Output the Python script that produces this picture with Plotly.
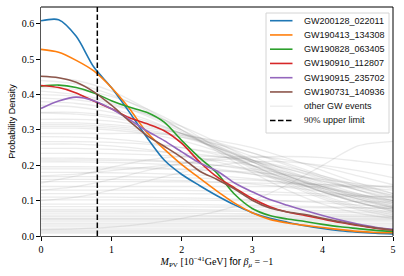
import plotly.graph_objects as go

# ---------------- data ----------------
X_FINE = [0, 0.25, 0.5, 0.75, 1.0, 1.25, 1.5, 1.75, 2.0, 2.25, 2.5, 2.75,
          3.0, 3.25, 3.5, 3.75, 4.0, 4.25, 4.5, 4.75, 5.0]

EVENT_NAMES = ["GW200128_022011", "GW190413_134308", "GW190828_063405",
               "GW190910_112807", "GW190915_235702", "GW190731_140936"]
EVENT_COLORS = ["#1f77b4", "#ff7f0e", "#2ca02c", "#d62728", "#9467bd", "#8c564b"]

GW200128 = [0.609, 0.612, 0.565, 0.478, 0.420, 0.352, 0.280, 0.215, 0.174, 0.143,
            0.114, 0.088, 0.066, 0.050, 0.039, 0.029, 0.021, 0.015, 0.011, 0.008, 0.006]
GW190413 = [0.528, 0.520, 0.497, 0.467, 0.420, 0.362, 0.294, 0.246, 0.202, 0.164,
            0.127, 0.093, 0.066, 0.047, 0.037, 0.030, 0.024, 0.018, 0.013, 0.010, 0.009]
GW190828 = [0.424, 0.427, 0.420, 0.405, 0.383, 0.365, 0.350, 0.322, 0.270, 0.222,
            0.178, 0.118, 0.078, 0.058, 0.048, 0.041, 0.033, 0.026, 0.021, 0.016, 0.013]
GW190910 = [0.426, 0.420, 0.405, 0.382, 0.360, 0.335, 0.318, 0.298, 0.262, 0.210,
            0.167, 0.136, 0.106, 0.083, 0.068, 0.058, 0.048, 0.038, 0.030, 0.022, 0.017]
GW190915 = [0.361, 0.382, 0.393, 0.383, 0.360, 0.330, 0.298, 0.270, 0.238, 0.207,
            0.184, 0.150, 0.125, 0.103, 0.087, 0.072, 0.058, 0.045, 0.034, 0.025, 0.019]
GW190731 = [0.452, 0.448, 0.435, 0.408, 0.370, 0.326, 0.285, 0.254, 0.222, 0.184,
            0.160, 0.133, 0.101, 0.079, 0.068, 0.061, 0.050, 0.040, 0.031, 0.023, 0.017]
EVENT_VALUES = [GW200128, GW190413, GW190828, GW190910, GW190915, GW190731]

X_COARSE = [0, 0.5, 1.0, 1.5, 2.0, 2.5, 3.0, 3.5, 4.0, 4.5, 5.0]
OTHER_EVENTS = [
    [0.45, 0.44, 0.41, 0.36, 0.30, 0.24, 0.18, 0.13, 0.09, 0.065, 0.05],
    [0.44, 0.43, 0.40, 0.355, 0.30, 0.245, 0.19, 0.145, 0.105, 0.075, 0.055],
    [0.42, 0.415, 0.395, 0.36, 0.31, 0.25, 0.20, 0.155, 0.115, 0.085, 0.065],
    [0.41, 0.40, 0.38, 0.345, 0.30, 0.255, 0.21, 0.165, 0.125, 0.095, 0.07],
    [0.40, 0.395, 0.375, 0.34, 0.295, 0.245, 0.195, 0.15, 0.11, 0.08, 0.06],
    [0.39, 0.385, 0.37, 0.345, 0.31, 0.265, 0.215, 0.17, 0.13, 0.095, 0.07],
    [0.38, 0.375, 0.36, 0.33, 0.29, 0.25, 0.21, 0.17, 0.135, 0.105, 0.08],
    [0.37, 0.365, 0.35, 0.325, 0.29, 0.245, 0.20, 0.16, 0.125, 0.095, 0.075],
    [0.35, 0.35, 0.34, 0.32, 0.29, 0.255, 0.215, 0.175, 0.14, 0.11, 0.085],
    [0.348, 0.345, 0.335, 0.315, 0.285, 0.25, 0.21, 0.17, 0.135, 0.105, 0.082],
    [0.33, 0.33, 0.325, 0.31, 0.29, 0.26, 0.225, 0.185, 0.15, 0.12, 0.095],
    [0.32, 0.32, 0.315, 0.305, 0.29, 0.265, 0.235, 0.20, 0.165, 0.13, 0.10],
    [0.315, 0.315, 0.31, 0.30, 0.28, 0.25, 0.215, 0.18, 0.145, 0.115, 0.09],
    [0.31, 0.31, 0.305, 0.295, 0.28, 0.26, 0.235, 0.205, 0.17, 0.14, 0.11],
    [0.305, 0.305, 0.30, 0.29, 0.27, 0.24, 0.20, 0.16, 0.125, 0.095, 0.075],
    [0.29, 0.29, 0.29, 0.29, 0.285, 0.27, 0.25, 0.22, 0.185, 0.15, 0.12],
    [0.281, 0.28, 0.275, 0.265, 0.25, 0.23, 0.20, 0.17, 0.14, 0.11, 0.09],
    [0.267, 0.267, 0.265, 0.26, 0.25, 0.235, 0.215, 0.19, 0.16, 0.13, 0.105],
    [0.26, 0.26, 0.255, 0.245, 0.23, 0.21, 0.185, 0.155, 0.125, 0.10, 0.08],
    [0.248, 0.248, 0.245, 0.24, 0.235, 0.225, 0.21, 0.19, 0.165, 0.14, 0.115],
    [0.234, 0.234, 0.233, 0.23, 0.225, 0.215, 0.20, 0.18, 0.155, 0.13, 0.11],
    [0.22, 0.22, 0.218, 0.215, 0.21, 0.20, 0.185, 0.165, 0.14, 0.115, 0.095],
    [0.215, 0.215, 0.214, 0.212, 0.208, 0.20, 0.19, 0.175, 0.155, 0.135, 0.115],
    [0.21, 0.21, 0.208, 0.205, 0.20, 0.19, 0.175, 0.155, 0.13, 0.105, 0.085],
    [0.196, 0.196, 0.195, 0.193, 0.19, 0.185, 0.175, 0.16, 0.14, 0.12, 0.10],
    [0.19, 0.19, 0.19, 0.19, 0.188, 0.185, 0.18, 0.172, 0.16, 0.148, 0.135],
    [0.18, 0.18, 0.179, 0.177, 0.174, 0.17, 0.162, 0.15, 0.135, 0.118, 0.10],
    [0.168, 0.168, 0.168, 0.167, 0.165, 0.162, 0.158, 0.152, 0.145, 0.138, 0.13],
    [0.16, 0.16, 0.16, 0.159, 0.157, 0.153, 0.147, 0.138, 0.126, 0.113, 0.10],
    [0.154, 0.154, 0.154, 0.154, 0.153, 0.152, 0.15, 0.148, 0.146, 0.143, 0.14],
    [0.14, 0.14, 0.14, 0.14, 0.14, 0.14, 0.14, 0.14, 0.14, 0.14, 0.14],
    [0.13, 0.13, 0.13, 0.13, 0.129, 0.128, 0.126, 0.123, 0.119, 0.115, 0.11],
    [0.12, 0.12, 0.12, 0.12, 0.12, 0.119, 0.118, 0.116, 0.114, 0.112, 0.11],
    [0.11, 0.11, 0.11, 0.109, 0.108, 0.106, 0.103, 0.099, 0.094, 0.088, 0.082],
    [0.102, 0.102, 0.102, 0.102, 0.102, 0.101, 0.10, 0.099, 0.098, 0.097, 0.096],
    [0.09, 0.09, 0.09, 0.09, 0.089, 0.088, 0.087, 0.085, 0.083, 0.081, 0.079],
    [0.083, 0.083, 0.083, 0.083, 0.083, 0.082, 0.082, 0.081, 0.08, 0.079, 0.078],
    [0.075, 0.075, 0.075, 0.075, 0.075, 0.074, 0.074, 0.073, 0.072, 0.071, 0.07],
    [0.07, 0.07, 0.07, 0.07, 0.07, 0.07, 0.069, 0.068, 0.067, 0.066, 0.065],
    [0.065, 0.065, 0.065, 0.065, 0.064, 0.064, 0.063, 0.062, 0.061, 0.06, 0.059],
    [0.059, 0.059, 0.059, 0.059, 0.059, 0.058, 0.058, 0.057, 0.057, 0.056, 0.055],
    [0.055, 0.055, 0.055, 0.055, 0.055, 0.055, 0.055, 0.054, 0.054, 0.054, 0.053],
    [0.05, 0.05, 0.05, 0.05, 0.05, 0.05, 0.05, 0.05, 0.05, 0.05, 0.05],
    [0.048, 0.048, 0.048, 0.048, 0.048, 0.048, 0.048, 0.047, 0.047, 0.047, 0.047],
    [0.045, 0.045, 0.045, 0.045, 0.045, 0.045, 0.045, 0.045, 0.044, 0.044, 0.044],
    [0.04, 0.04, 0.04, 0.04, 0.04, 0.04, 0.04, 0.04, 0.04, 0.04, 0.04],
    [0.035, 0.035, 0.035, 0.035, 0.035, 0.035, 0.035, 0.035, 0.035, 0.035, 0.035],
    [0.031, 0.031, 0.031, 0.031, 0.031, 0.031, 0.031, 0.031, 0.031, 0.031, 0.031],
    [0.026, 0.026, 0.026, 0.026, 0.026, 0.026, 0.026, 0.026, 0.026, 0.026, 0.026],
    [0.02, 0.02, 0.02, 0.02, 0.02, 0.02, 0.02, 0.02, 0.02, 0.02, 0.02],
    [0.016, 0.016, 0.016, 0.016, 0.016, 0.016, 0.016, 0.016, 0.016, 0.016, 0.016],
    [0.012, 0.012, 0.012, 0.012, 0.012, 0.012, 0.012, 0.012, 0.012, 0.012, 0.012],
    [0.008, 0.008, 0.008, 0.008, 0.008, 0.008, 0.008, 0.008, 0.008, 0.008, 0.008],
    [0.15, 0.17, 0.195, 0.215, 0.225, 0.225, 0.215, 0.195, 0.17, 0.145, 0.12],
    [0.13, 0.14, 0.16, 0.185, 0.205, 0.22, 0.225, 0.215, 0.195, 0.17, 0.145],
    [0.018, 0.02, 0.025, 0.035, 0.05, 0.07, 0.10, 0.145, 0.20, 0.255, 0.268],
    [0.10, 0.11, 0.13, 0.155, 0.18, 0.20, 0.21, 0.21, 0.20, 0.185, 0.165],
    [0.17, 0.175, 0.185, 0.195, 0.205, 0.215, 0.222, 0.225, 0.222, 0.212, 0.20],
]

UPPER_LIMIT = 0.8
X_TICKS = [0, 1, 2, 3, 4, 5]
Y_TICKS = [0.0, 0.1, 0.2, 0.3, 0.4, 0.5, 0.6]
Y_MAX = 0.648

# ---------------- figure ----------------
GRAY = "rgba(128,128,128,0.16)"
SERIF = "Liberation Serif"
SANS = "Liberation Sans"

fig = go.Figure()
for vals in OTHER_EVENTS:
    fig.add_trace(go.Scatter(x=X_COARSE, y=vals, mode="lines",
                             line=dict(color=GRAY, width=1.3, shape="spline", smoothing=0.8),
                             showlegend=False, hoverinfo="skip"))
for name, col, vals in zip(EVENT_NAMES, EVENT_COLORS, EVENT_VALUES):
    fig.add_trace(go.Scatter(x=X_FINE, y=vals, mode="lines", name=name,
                             line=dict(color=col, width=1.6, shape="spline", smoothing=0.8),
                             showlegend=False))

fig.add_vline(x=UPPER_LIMIT, line=dict(color="black", width=1.5, dash="5.5px,2.5px"))

# plot box geometry in pixels
W, H = 404, 276
L, R, T, B = 41, 11, 7, 40
PW, PH = W - L - R, H - T - B


def px(xp):
    return (xp - L) / PW


def py(yp):
    return (H - B - yp) / PH


shapes = list(fig.layout.shapes)
annotations = []
# top / right spines
shapes.append(dict(type="line", xref="paper", yref="paper", x0=0, x1=1, y0=1, y1=1,
                   line=dict(color="black", width=1)))
shapes.append(dict(type="line", xref="paper", yref="paper", x0=1, x1=1, y0=0, y1=1,
                   line=dict(color="black", width=1)))

# manual legend
shapes.append(dict(type="rect", xref="paper", yref="paper",
                   x0=px(266), x1=px(389), y0=py(133), y1=py(13),
                   fillcolor="rgba(255,255,255,0.8)", line=dict(color="#d4d4d4", width=1)))
legend_labels = EVENT_NAMES + ["other GW events",
                               f"<span style='font-family:{SERIF}'>90%</span> upper limit"]
legend_lines = [dict(color=c, width=1.6) for c in EVENT_COLORS] + [
    dict(color="rgba(128,128,128,0.16)", width=1.3),
    dict(color="black", width=1.5, dash="5.5px,2.5px")]
for i, (lab, ln) in enumerate(zip(legend_labels, legend_lines)):
    yy = 20.7 + 14.25 * i
    shapes.append(dict(type="line", xref="paper", yref="paper",
                       x0=px(270), x1=px(292.5), y0=py(yy), y1=py(yy), line=ln))
    annotations.append(dict(xref="paper", yref="paper", x=px(301.5), y=py(yy),
                            xanchor="left", yanchor="middle", text=lab, showarrow=False,
                            font=dict(family=SANS, size=9, color="#111")))

fig.update_layout(
    width=W, height=H,
    margin=dict(l=L, r=R, t=T, b=B, pad=0),
    plot_bgcolor="white", paper_bgcolor="white",
    shapes=shapes,
    annotations=annotations,
    showlegend=False,
)
fig.update_xaxes(range=[0, 5], tickvals=X_TICKS, ticktext=[str(v) for v in X_TICKS],
                 showgrid=False, zeroline=False, showline=True, linecolor="#555",
                 linewidth=1.4, ticks="outside", ticklen=3.5, tickwidth=0.8,
                 tickcolor="black", tickfont=dict(family=SERIF, size=10, color="black"),
                 title=dict(text="<i>M</i><sub>PV</sub> [10<sup>−41</sup>GeV] "
                                 f"<span style='font-family:{SANS}'>for</span> "
                                 "<i>β</i><sub><i>μ</i></sub> = −1",
                            font=dict(family=SERIF, size=10, color="black"), standoff=4))
fig.update_yaxes(range=[0, Y_MAX], tickvals=Y_TICKS, ticktext=[f"{v:.1f}" for v in Y_TICKS],
                 showgrid=False, zeroline=False, showline=True, linecolor="#555",
                 linewidth=1.4, ticks="outside", ticklen=3.5, tickwidth=0.8,
                 tickcolor="black", tickfont=dict(family=SERIF, size=10, color="black"),
                 title=dict(text="Probability Density",
                            font=dict(family=SANS, size=9, color="black"), standoff=4))

fig.write_html("out.html", config={"displayModeBar": False},
               post_script="document.body.style.margin='0';")
